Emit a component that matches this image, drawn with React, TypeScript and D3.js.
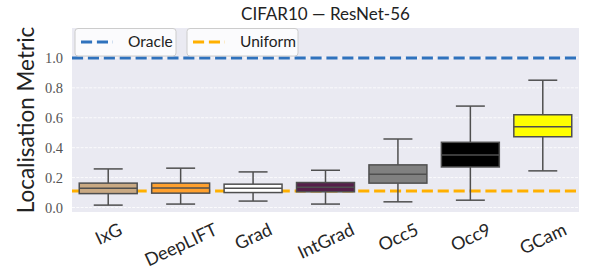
import React, { useEffect, useRef } from "react";
import * as d3 from "d3";

// data
const methods = ["IxG", "DeepLIFT", "Grad", "IntGrad", "Occ5", "Occ9", "GCam"];
const whiskerLow = [0.016, 0.023, 0.043, 0.023, 0.038, 0.049, 0.245];
const q1 = [0.093, 0.096, 0.1, 0.105, 0.163, 0.271, 0.473];
const medians = [0.129, 0.131, 0.129, 0.136, 0.223, 0.351, 0.54];
const q3 = [0.163, 0.163, 0.156, 0.167, 0.285, 0.436, 0.62];
const whiskerHigh = [0.258, 0.263, 0.238, 0.249, 0.458, 0.678, 0.851];
const boxColors = ["#c9a983", "#ffa02e", "#ffffff", "#551f4a", "#808080", "#000000", "#ffff00"];
const yTicks = [0.0, 0.2, 0.4, 0.6, 0.8, 1.0];
const oracleValue = 1.0;
const uniformValue = 0.11;

const W = 598;
const H = 279;
const margin = { top: 28, right: 19, bottom: 67, left: 72 };
const SANS = "Lato, 'Open Sans', sans-serif";
const SERIF = "'Liberation Serif', 'DejaVu Serif', serif";

export default function App() {
  const ref = useRef<SVGSVGElement>(null);

  useEffect(() => {
    document.body.style.margin = "0";
    const svg = d3.select(ref.current);
    svg.selectAll("*").remove();

    const x = d3
      .scaleBand()
      .domain(methods)
      .range([margin.left, W - margin.right])
      .padding(0);
    const y = d3
      .scaleLinear()
      .domain([-0.03, 1.2])
      .range([H - margin.bottom, margin.top]);

    // background
    svg
      .append("rect")
      .attr("x", margin.left)
      .attr("y", margin.top)
      .attr("width", W - margin.left - margin.right)
      .attr("height", H - margin.top - margin.bottom)
      .attr("fill", "#eaeaf2");

    // grid
    svg
      .append("g")
      .selectAll("line")
      .data(yTicks)
      .enter()
      .append("line")
      .attr("x1", margin.left)
      .attr("x2", W - margin.right)
      .attr("y1", (d) => y(d))
      .attr("y2", (d) => y(d))
      .attr("stroke", "#ffffff")
      .attr("stroke-width", 0.8)
      .attr("stroke-dasharray", "3,1.3");

    // y tick labels
    svg
      .append("g")
      .selectAll("text")
      .data(yTicks)
      .enter()
      .append("text")
      .attr("x", margin.left - 9)
      .attr("y", (d) => y(d))
      .attr("dy", "0.35em")
      .attr("text-anchor", "end")
      .attr("font-family", SERIF)
      .attr("font-size", 14.5)
      .attr("fill", "#555")
      .text((d) => d.toFixed(1));

    // uniform line (below boxes)
    svg
      .append("line")
      .attr("x1", margin.left)
      .attr("x2", W - margin.right)
      .attr("y1", y(uniformValue))
      .attr("y2", y(uniformValue))
      .attr("stroke", "#ffb000")
      .attr("stroke-width", 3)
      .attr("stroke-dasharray", "11.1,4.8");

    const bw = x.bandwidth() * 0.8;
    const capW = bw / 2;
    const edge = "#4f4f4f";
    const g = svg.append("g");
    methods.forEach((m, i) => {
      const cx = (x(m) as number) + x.bandwidth() / 2;
      // whiskers
      g.append("line")
        .attr("x1", cx).attr("x2", cx)
        .attr("y1", y(q3[i])).attr("y2", y(whiskerHigh[i]))
        .attr("stroke", edge).attr("stroke-width", 1.5);
      g.append("line")
        .attr("x1", cx).attr("x2", cx)
        .attr("y1", y(q1[i])).attr("y2", y(whiskerLow[i]))
        .attr("stroke", edge).attr("stroke-width", 1.5);
      [whiskerHigh[i], whiskerLow[i]].forEach((v) => {
        g.append("line")
          .attr("x1", cx - capW / 2).attr("x2", cx + capW / 2)
          .attr("y1", y(v)).attr("y2", y(v))
          .attr("stroke", edge).attr("stroke-width", 1.5);
      });
      g.append("rect")
        .attr("x", cx - bw / 2)
        .attr("y", y(q3[i]))
        .attr("width", bw)
        .attr("height", y(q1[i]) - y(q3[i]))
        .attr("fill", boxColors[i])
        .attr("stroke", edge)
        .attr("stroke-width", 1.5);
      g.append("line")
        .attr("x1", cx - bw / 2).attr("x2", cx + bw / 2)
        .attr("y1", y(medians[i])).attr("y2", y(medians[i]))
        .attr("stroke", edge).attr("stroke-width", 1.5);
    });

    // oracle line
    svg
      .append("line")
      .attr("x1", margin.left)
      .attr("x2", W - margin.right)
      .attr("y1", y(oracleValue))
      .attr("y2", y(oracleValue))
      .attr("stroke", "#2f72bd")
      .attr("stroke-width", 3)
      .attr("stroke-dasharray", "11.1,4.8");

    // x tick labels, rotated, centred, rotated bbox top aligned
    const angle = 25;
    const rad = (angle * Math.PI) / 180;
    const labelTop = 220;
    methods.forEach((m) => {
      const cx = (x(m) as number) + x.bandwidth() / 2;
      const t = svg
        .append("text")
        .attr("text-anchor", "middle")
        .attr("dominant-baseline", "central")
        .attr("font-family", SANS)
        .attr("font-size", 18)
        .attr("fill", "#262626")
        .text(m);
      const tw = (t.node() as SVGTextElement).getComputedTextLength();
      const bh = tw * Math.sin(rad) + 17 * Math.cos(rad);
      const cy = labelTop + bh / 2;
      t.attr("x", cx).attr("y", cy).attr("transform", `rotate(${-angle},${cx},${cy})`);
    });

    // legends
    const legends = [
      { label: "Oracle", color: "#2f72bd", x0: 75, w: 101 },
      { label: "Uniform", color: "#ffb000", x0: 187, w: 111 },
    ];
    legends.forEach((l) => {
      svg
        .append("rect")
        .attr("x", l.x0)
        .attr("y", 28.5)
        .attr("width", l.w)
        .attr("height", 27.5)
        .attr("rx", 3)
        .attr("fill", "#ffffff")
        .attr("fill-opacity", 0.8)
        .attr("stroke", "#cccccc")
        .attr("stroke-width", 1);
      svg
        .append("line")
        .attr("x1", l.x0 + 6)
        .attr("x2", l.x0 + 38)
        .attr("y1", 42)
        .attr("y2", 42)
        .attr("stroke", l.color)
        .attr("stroke-width", 3)
        .attr("stroke-dasharray", "11.1,4.8");
      svg
        .append("text")
        .attr("x", l.x0 + 53)
        .attr("y", 42)
        .attr("dy", "0.35em")
        .attr("font-family", SANS)
        .attr("font-size", 15.5)
        .attr("fill", "#222")
        .text(l.label);
    });

    // title
    svg
      .append("text")
      .attr("x", (margin.left + W - margin.right) / 2)
      .attr("y", 20)
      .attr("text-anchor", "middle")
      .attr("font-family", SANS)
      .attr("font-size", 17)
      .attr("fill", "#222")
      .text("CIFAR10 — ResNet-56");

    // y label
    svg
      .append("text")
      .attr("transform", `translate(26,${(margin.top + H - margin.bottom) / 2}) rotate(-90)`)
      .attr("text-anchor", "middle")
      .attr("dy", "0.35em")
      .attr("font-family", SANS)
      .attr("font-size", 22.5)
      .attr("fill", "#222")
      .text("Localisation Metric");
  }, []);

  return <svg ref={ref} width={W} height={H} style={{ display: "block" }} />;
}
